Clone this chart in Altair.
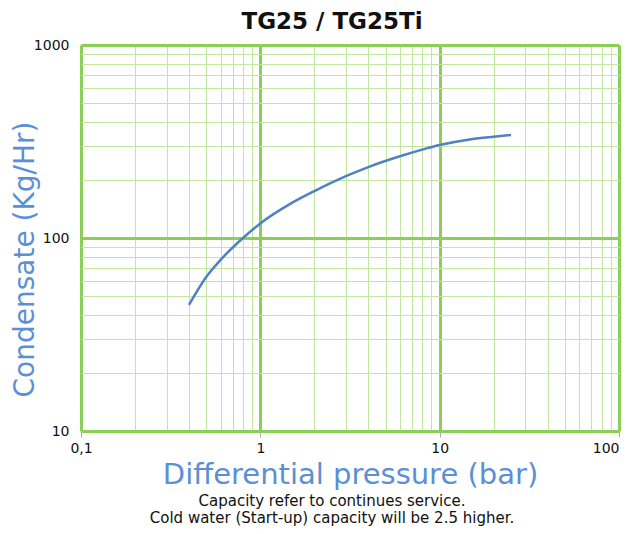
import altair as alt
import pandas as pd

# data
pressure = [0.4, 0.5, 0.6, 0.8, 1, 1.5, 2, 3, 4, 6, 8, 10, 15, 20, 25]
capacity = [45, 63, 77, 100, 119, 152, 175, 209, 233, 265, 287, 303, 325, 335, 342]

x_ticks = [round(k * 10.0 ** e, 6) for e in (-1, 0, 1) for k in range(1, 10)] + [100]
y_ticks = [round(k * 10.0 ** e, 6) for e in (1, 2) for k in range(1, 10)] + [1000]

title_text = "TG25 / TG25Ti"
x_title = "Differential pressure (bar)"
y_title = "Condensate (Kg/Hr)"
footnote = ["Capacity refer to continues service.",
            "Cold water (Start-up) capacity will be 2.5 higher."]

df = pd.DataFrame({"p": pressure, "c": capacity})

FONT = "DejaVu Sans"
MAJOR = "#8ccf56"
MINOR = "#c2e5a0"
BLUE = "#5b8fd6"

x_major = "datum.value == 0.1 || datum.value == 1 || datum.value == 10 || datum.value == 100"
y_major = "datum.value == 10 || datum.value == 100 || datum.value == 1000"

x_axis = alt.Axis(
    values=x_ticks,
    labelExpr="datum.value == 0.1 ? '0,1' : ((" + x_major + ") ? format(datum.value, 'd') : '')",
    grid=True,
    gridColor={"condition": {"test": x_major, "value": MAJOR}, "value": MINOR},
    gridWidth={"condition": {"test": x_major, "value": 3}, "value": 1},
    gridOpacity=1,
    domain=False,
    tickColor={"condition": {"test": x_major, "value": "#aaaaaa"}, "value": "transparent"},
    tickSize=6,
    labelFont=FONT, labelFontSize=14, labelColor="#111111", labelPadding=4,
    labelAlign={"condition": {"test": "datum.value == 100", "value": "right"}, "value": "center"},
    labelFlush=False, labelOverlap=False,
    title=x_title, titleFont=FONT, titleFontSize=29, titleFontWeight="normal",
    titleColor=BLUE, titlePadding=5,
)

y_axis = alt.Axis(
    values=y_ticks,
    labelExpr="(" + y_major + ") ? format(datum.value, 'd') : ''",
    grid=True,
    gridColor={"condition": {"test": y_major, "value": MAJOR}, "value": MINOR},
    gridWidth={"condition": {"test": y_major, "value": 3}, "value": 1},
    gridOpacity=1,
    domain=False,
    ticks=False,
    labelFont=FONT, labelFontSize=14, labelColor="#111111", labelPadding=12,
    labelFlush=False, labelOverlap=False,
    title=y_title, titleFont=FONT, titleFontSize=28, titleFontWeight="normal",
    titleColor=BLUE, titleAngle=270, titleAlign="center", titleBaseline="middle",
    titleX=-56, titleY=214,
)

W, H = 538, 386

line = alt.Chart(df).mark_line(
    color="#4f81c4", strokeWidth=2.5, interpolate="monotone"
).encode(
    x=alt.X("p:Q", scale=alt.Scale(type="log", domain=[0.1, 100], nice=False), axis=x_axis),
    y=alt.Y("c:Q", scale=alt.Scale(type="log", domain=[10, 1000], nice=False), axis=y_axis),
)

note = alt.Chart(pd.DataFrame({"t": [0]})).mark_text(
    font=FONT, fontSize=15, color="#111111", align="center", baseline="middle",
    lineHeight=17,
).encode(
    x=alt.value(W / 2 - 18),
    y=alt.value(H + 70),
    text=alt.value(footnote),
)

chart = alt.layer(line, note).properties(
    width=W,
    height=H,
    title=alt.TitleParams(title_text, font=FONT, fontSize=23, fontWeight="bold",
                          color="#111111", anchor="middle", offset=4, dx=-18),
    autosize=alt.AutoSizeParams(type="none"),
    padding={"left": 73, "top": 37, "right": 8, "bottom": 95},
).configure_view(stroke=None)

chart.save("out.html", embed_options={"renderer": "svg", "actions": False})
